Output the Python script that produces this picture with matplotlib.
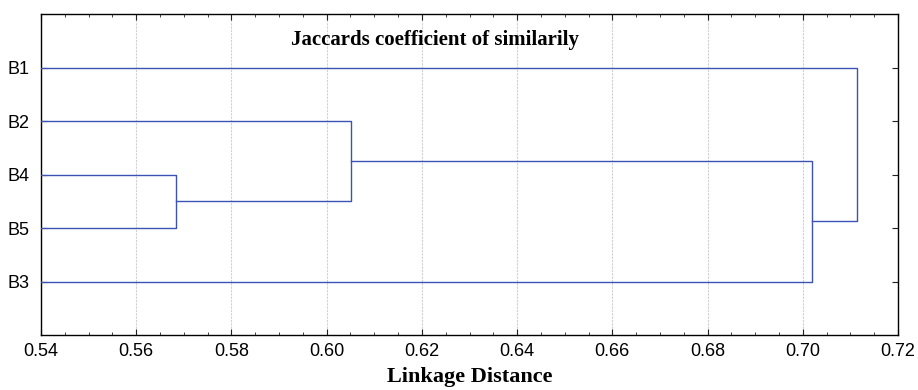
import matplotlib.pyplot as plt
from matplotlib.ticker import MultipleLocator

# leaves in the order they are drawn, top to bottom
leaves = ['B1', 'B2', 'B4', 'B5', 'B3']
# merges: left child, right child, linkage distance
merge_left = ['B4', 'B2', 'C2', 'B1']
merge_right = ['B5', 'C1', 'B3', 'C3']
merge_dist = [0.5684, 0.6051, 0.7019, 0.7114]

line_color = '#3d52b5'

fig = plt.figure(figsize=(9.18, 3.9), dpi=100)
ax = fig.add_axes([0.0447, 0.141, 0.9335, 0.823])

# node positions: x = distance, y = row
nodes = {name: (0.0, i + 1) for i, name in enumerate(leaves)}
for k, (a, b, d) in enumerate(zip(merge_left, merge_right, merge_dist)):
    xa, ya = nodes[a]
    xb, yb = nodes[b]
    ax.plot([xa, d, d, xb], [ya, ya, yb, yb], color=line_color, lw=1.0, zorder=3)
    nodes['C%d' % (k + 1)] = (d, (ya + yb) / 2)

ax.set_xlim(0.54, 0.72)
ax.set_ylim(6, 0)
ax.set_yticks(range(1, len(leaves) + 1))
ax.set_yticklabels(leaves)
ax.xaxis.set_major_locator(MultipleLocator(0.02))
ax.xaxis.set_minor_locator(MultipleLocator(0.005))
ax.xaxis.set_major_formatter(plt.FuncFormatter(lambda v, p: f'{v:.2f}'))
ax.tick_params(axis='both', which='both', direction='in', top=True, right=True,
               labelsize=13, color='#222222')
ax.tick_params(axis='both', which='major', length=4)
ax.tick_params(axis='both', which='minor', length=2.5)
ax.tick_params(axis='x', pad=6)
ax.tick_params(axis='y', pad=8)
for lab in ax.get_xticklabels() + ax.get_yticklabels():
    lab.set_family('Liberation Sans')
ax.grid(axis='x', which='major', color='#d0d0d0', lw=0.8, ls=(0, (2, 1)))
for s in ax.spines.values():
    s.set_linewidth(1.0)

ax.text(0.6228, 0.48, 'Jaccards coefficient of similarily', ha='center', va='center',
        fontsize=15, fontweight='bold', family='Liberation Serif')
ax.set_xlabel('Linkage Distance', fontsize=16, fontweight='bold', family='Liberation Serif',
              labelpad=5)

fig.savefig('out.png', dpi=100)
